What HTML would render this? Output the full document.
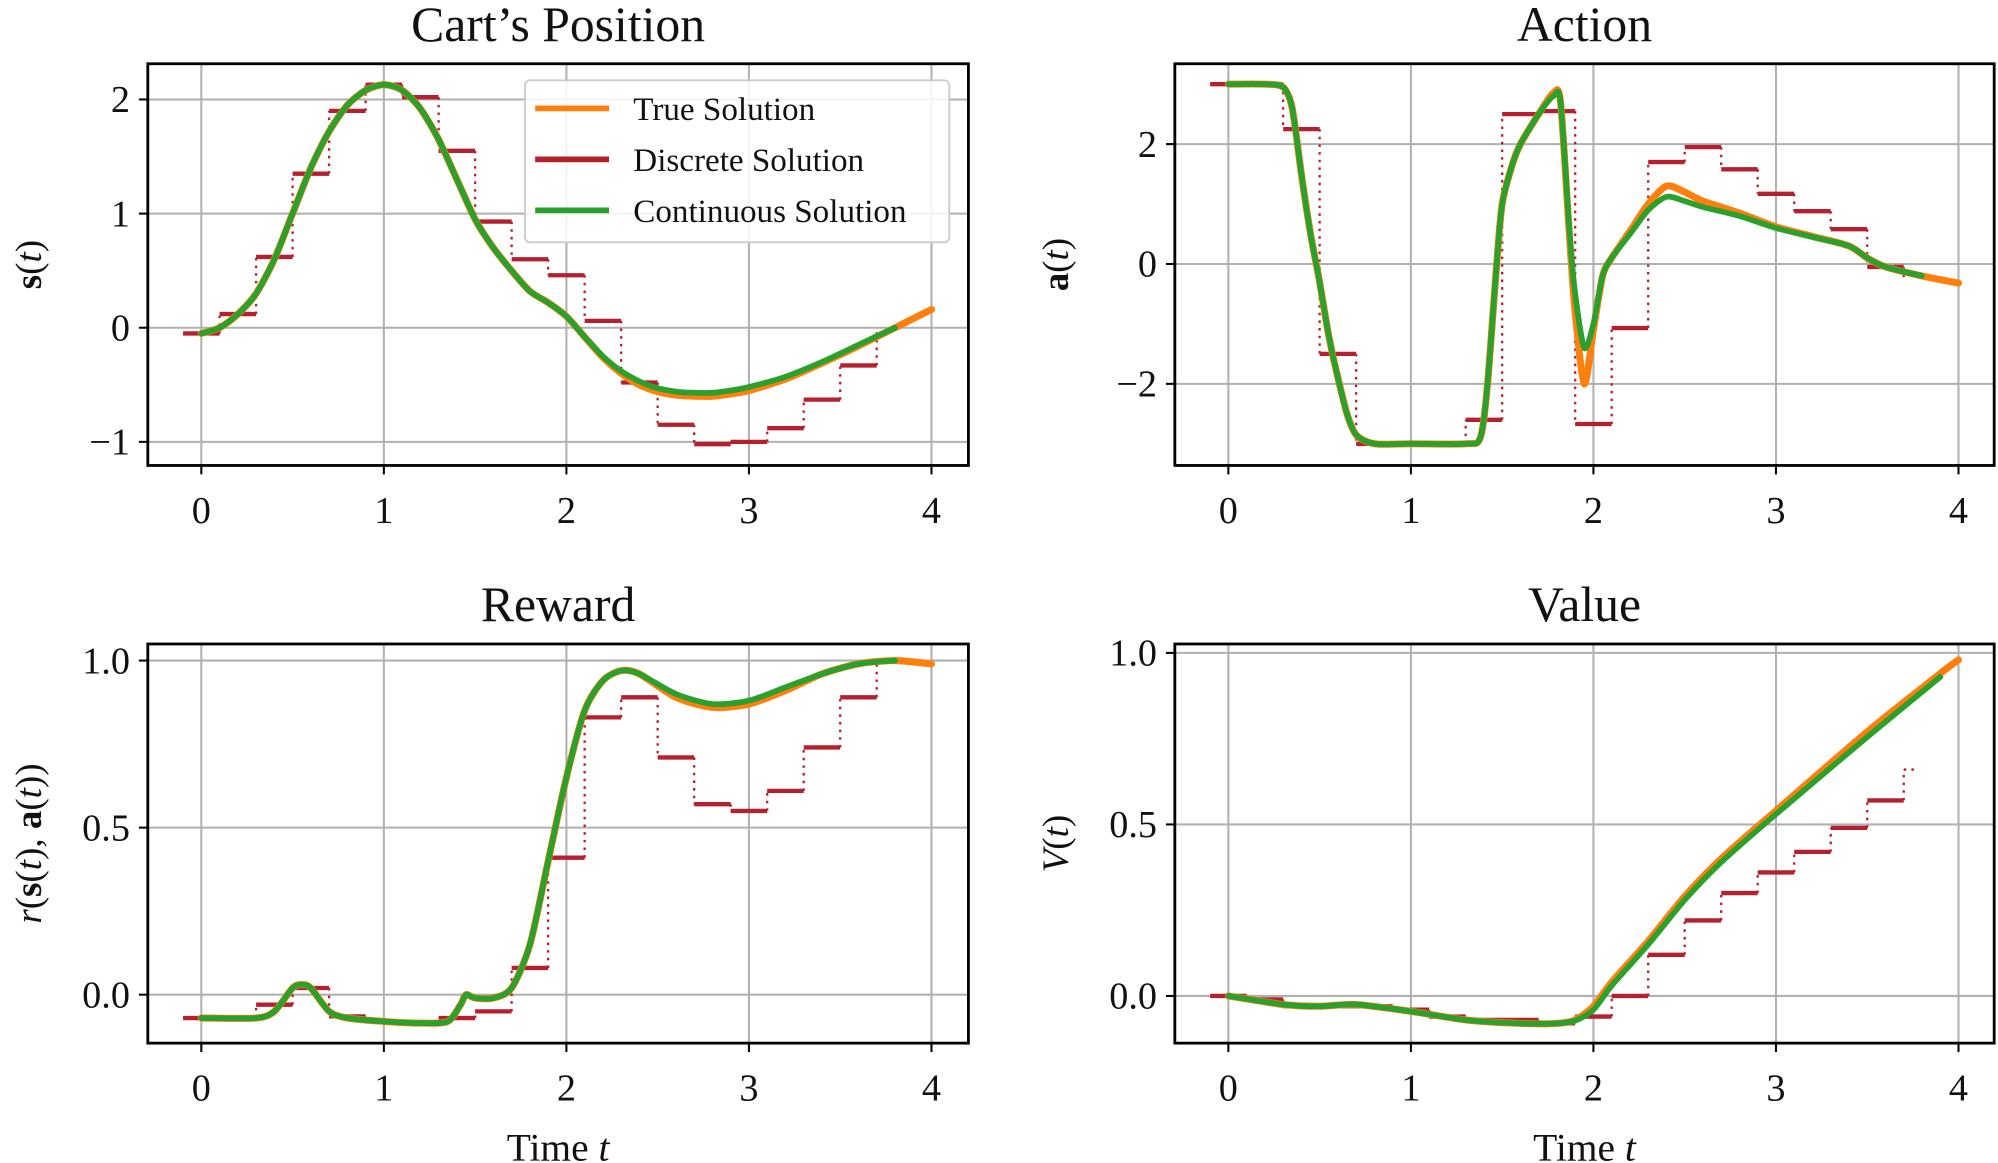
<!DOCTYPE html>
<html><head><meta charset="utf-8"><style>
html,body{margin:0;padding:0;background:#fff}
svg{display:block}
text{font-family:"Liberation Serif",serif;fill:#111}
</style></head><body>
<svg id="fig" width="1998" height="1163" viewBox="0 0 1568 912" preserveAspectRatio="none" xmlns="http://www.w3.org/2000/svg"></svg>
<script>
// ---- data ----
const stepTimes = [0,0.2,0.4,0.6,0.8,1.0,1.2,1.4,1.6,1.8,2.0,2.2,2.4,2.6,2.8,3.0,3.2,3.4,3.6];
const posDiscrete = [-0.05,0.12,0.62,1.35,1.9,2.13,2.02,1.55,0.93,0.6,0.46,0.06,-0.48,-0.85,-1.02,-1.0,-0.88,-0.63,-0.33];
const posT = [0,0.1,0.2,0.3,0.4,0.5,0.6,0.7,0.8,0.9,1.0,1.1,1.2,1.3,1.4,1.5,1.6,1.7,1.8,1.9,2.0,2.1,2.2,2.3,2.4,2.5,2.6,2.7,2.8,2.9,3.0,3.2,3.4,3.6,3.8,4.0];
const posTrue = [-0.05,0.0,0.12,0.3,0.6,1.0,1.4,1.72,1.95,2.08,2.13,2.08,1.92,1.65,1.3,0.95,0.7,0.5,0.32,0.22,0.1,-0.08,-0.26,-0.4,-0.5,-0.56,-0.59,-0.6,-0.6,-0.58,-0.55,-0.45,-0.31,-0.16,0.0,0.16];
const posCont = [-0.05,0.0,0.12,0.3,0.6,1.0,1.4,1.72,1.95,2.08,2.13,2.08,1.92,1.65,1.3,0.95,0.7,0.5,0.32,0.22,0.1,-0.08,-0.25,-0.38,-0.47,-0.53,-0.56,-0.57,-0.57,-0.55,-0.52,-0.43,-0.3,-0.15,0.0,null];

const actDiscrete = [3.0,3.0,2.25,-1.5,-3.0,-3.0,-3.0,-2.6,2.5,2.55,-2.67,-1.07,1.7,1.95,1.58,1.17,0.88,0.58,-0.05];
const actT = [0,0.2,0.3,0.35,0.4,0.45,0.5,0.55,0.6,0.65,0.7,0.8,1.0,1.3,1.38,1.42,1.47,1.5,1.55,1.6,1.7,1.78,1.82,1.87,1.9,1.95,2.0,2.05,2.1,2.2,2.3,2.4,2.5,2.6,2.8,3.0,3.2,3.4,3.5,3.6,3.8,4.0];
const actTrue = [3.0,3.0,2.95,2.6,1.5,0.5,-0.3,-1.2,-1.9,-2.5,-2.85,-3.0,-3.0,-3.0,-2.9,-2.0,0,1.0,1.6,2.0,2.5,2.85,2.7,0.4,-0.8,-2.0,-1.1,-0.2,0.1,0.55,1.0,1.3,1.2,1.05,0.85,0.62,0.46,0.3,0.1,-0.05,-0.2,-0.32];
const actCont = [3.0,3.0,2.95,2.6,1.5,0.5,-0.3,-1.2,-1.9,-2.5,-2.85,-3.0,-3.0,-3.0,-2.9,-2.0,0,1.0,1.6,2.0,2.5,2.8,2.7,0.5,-0.5,-1.4,-1.0,-0.2,0.1,0.5,0.9,1.12,1.05,0.95,0.8,0.6,0.45,0.3,0.1,-0.05,-0.2,null];

const rewDiscrete = [-0.07,-0.07,-0.03,0.02,-0.065,-0.08,-0.085,-0.07,-0.05,0.08,0.41,0.83,0.89,0.71,0.57,0.55,0.61,0.74,0.89];
const rewT = [0,0.3,0.4,0.5,0.55,0.6,0.7,0.8,1.0,1.2,1.35,1.42,1.45,1.5,1.6,1.7,1.8,1.9,2.0,2.1,2.2,2.3,2.4,2.6,2.8,3.0,3.2,3.4,3.6,3.8,4.0];
const rewTrue = [-0.07,-0.07,-0.05,0.02,0.03,0.02,-0.05,-0.07,-0.08,-0.085,-0.08,-0.03,0.0,-0.01,-0.01,0.02,0.15,0.4,0.65,0.85,0.94,0.97,0.96,0.89,0.86,0.87,0.91,0.96,0.99,1.0,0.99];
const rewCont = [-0.07,-0.07,-0.05,0.02,0.03,0.02,-0.05,-0.07,-0.08,-0.085,-0.08,-0.03,0.0,-0.01,-0.01,0.02,0.15,0.4,0.65,0.85,0.94,0.97,0.96,0.9,0.87,0.88,0.92,0.96,0.99,1.0,null];

const valDiscrete = [0.0,-0.01,-0.03,-0.03,-0.03,-0.04,-0.06,-0.07,-0.07,-0.08,-0.06,0.0,0.12,0.22,0.3,0.36,0.42,0.49,0.57];
const valT = [0,0.3,0.5,0.7,1.0,1.3,1.6,1.8,1.9,2.0,2.1,2.3,2.5,2.7,3.0,3.5,3.9,4.0];
const valTrue = [0.0,-0.025,-0.03,-0.025,-0.045,-0.07,-0.08,-0.08,-0.07,-0.03,0.04,0.16,0.29,0.4,0.54,0.77,0.94,0.98];
const valCont = [0.0,-0.025,-0.03,-0.025,-0.045,-0.07,-0.08,-0.08,-0.072,-0.04,0.03,0.15,0.28,0.39,0.53,0.755,0.93,null];

const xTicks = [0,1,2,3,4];
const posYTicks = [2,1,0,-1];
const actYTicks = [2,0,-2];
const rewYTicks = [1.0,0.5,0.0];
const valYTicks = [1.0,0.5,0.0];

// ---- drawing ----
const NS = "http://www.w3.org/2000/svg";
const svg = document.getElementById('fig');
function mk(tag, attrs, parent){const e=document.createElementNS(NS,tag);for(const k in attrs)e.setAttribute(k,attrs[k]);(parent||svg).appendChild(e);return e;}
function fmt(v,dec){const s=Math.abs(v).toFixed(dec);return (v<0?'\u2212':'')+s;}

function smoothPath(pts){
  if(pts.length<2)return '';
  let p='M'+pts[0][0].toFixed(1)+','+pts[0][1].toFixed(1);
  for(let i=0;i<pts.length-1;i++){
    const p0=pts[Math.max(0,i-1)],p1=pts[i],p2=pts[i+1],p3=pts[Math.min(pts.length-1,i+2)];
    const k=1/6*0.8;
    const c1x=p1[0]+(p2[0]-p0[0])*k,c1y=p1[1]+(p2[1]-p0[1])*k;
    const c2x=p2[0]-(p3[0]-p1[0])*k,c2y=p2[1]-(p3[1]-p1[1])*k;
    p+='C'+c1x.toFixed(1)+','+c1y.toFixed(1)+' '+c2x.toFixed(1)+','+c2y.toFixed(1)+' '+p2[0].toFixed(1)+','+p2[1].toFixed(1);
  }
  return p;
}

function panel(cfg){
  const g = mk('g',{});
  
  
  const X = t => cfg.x0px + (t - 0) * (cfg.x4px - cfg.x0px) / 4;
  const Y = v => cfg.ya.px + (v - cfg.ya.v) * (cfg.yb.px - cfg.ya.px) / (cfg.yb.v - cfg.ya.v);
  xTicks.forEach(t=>{const l=mk('line',{x1:X(t),x2:X(t),y1:cfg.top,y2:cfg.bottom,stroke:'#b0b0b0','stroke-width':1.6},g);
    });
  cfg.yTicks.forEach(v=>{const l=mk('line',{x1:cfg.left,x2:cfg.right,y1:Y(v),y2:Y(v),stroke:'#b0b0b0','stroke-width':1.6},g);
    });
  const cid='clip'+cfg.name;
  const cp=mk('clipPath',{id:cid},g);mk('rect',{x:cfg.left,y:cfg.top,width:cfg.right-cfg.left,height:cfg.bottom-cfg.top},cp);
  const data=mk('g',{'clip-path':'url(#'+cid+')'},g);
  const d=cfg.disc;
  for(let i=0;i<d.length;i++){
    const t=stepTimes[i];
    const s=mk('line',{x1:X(t-0.1),x2:X(t+0.1),y1:Y(d[i]),y2:Y(d[i]),stroke:'#b5202e','stroke-width':3.4},data);
    
    const next = i<d.length-1 ? d[i+1] : cfg.discEnd;
    if(next!==undefined){
      const c=mk('line',{x1:X(t+0.1),x2:X(t+0.1),y1:Y(d[i]),y2:Y(next),stroke:'#b5202e','stroke-width':1.8,'stroke-dasharray':'2,4'},data);
      
    }
  }
  if(cfg.discTail!==undefined){
    const s=mk('line',{x1:X(3.7),x2:X(3.76),y1:Y(cfg.discTail),y2:Y(cfg.discTail),stroke:'#b5202e','stroke-width':1.8,'stroke-dasharray':'2,4'},data);
    
  }
  function line(ts,vs,color,w,name){
    const pts=[];ts.forEach((t,i)=>{if(vs[i]===null||vs[i]===undefined)return;pts.push([X(t),Y(vs[i])]);});
    const e=mk('path',{d:smoothPath(pts),fill:'none',stroke:color,'stroke-width':w,'stroke-linejoin':'round','stroke-linecap':'round'},data);
    
  }
  line(cfg.t,cfg.tru,'#ff7f0e',5.5,'true-solution-line');
  line(cfg.t,cfg.cont,'#2ca02c',4.5,'continuous-solution-line');
  const fr=mk('rect',{x:cfg.left,y:cfg.top,width:cfg.right-cfg.left,height:cfg.bottom-cfg.top,fill:'none',stroke:'#000','stroke-width':2.2},g);
  
  xTicks.forEach(t=>{mk('line',{x1:X(t),x2:X(t),y1:cfg.bottom,y2:cfg.bottom+7,stroke:'#000','stroke-width':1.6},g);
    const tx=mk('text',{x:X(t),y:cfg.bottom+45,'text-anchor':'middle','font-size':30},g);tx.textContent=String(t);
    });
  cfg.yTicks.forEach(v=>{mk('line',{x1:cfg.left-7,x2:cfg.left,y1:Y(v),y2:Y(v),stroke:'#000','stroke-width':1.6},g);
    const tx=mk('text',{x:cfg.left-14,y:Y(v)+10,'text-anchor':'end','font-size':30},g);tx.textContent=fmt(v,cfg.dec);
    });
  const ti=mk('text',{x:(cfg.left+cfg.right)/2,y:cfg.top-18,'text-anchor':'middle','font-size':39},g);ti.textContent=cfg.title;
  
  const yl=mk('text',{x:0,y:0,'text-anchor':'middle','font-size':29,transform:`translate(${cfg.left-84},${(cfg.top+cfg.bottom)/2}) rotate(-90)`},g);
  yl.innerHTML=cfg.ylabel;
  
  if(cfg.xlabel){const xl=mk('text',{x:(cfg.left+cfg.right)/2,y:cfg.bottom+92,'text-anchor':'middle','font-size':31},g);
    xl.innerHTML='Time <tspan font-style="italic">t</tspan>';
    }
  return g;
}

panel({name:'position-panel',title:'Cart\u2019s Position',left:116,right:760,top:50,bottom:365,x0px:158,x4px:731,
  ya:{v:0,px:257},yb:{v:2,px:78},yTicks:posYTicks,dec:0,disc:posDiscrete,discEnd:0.0,t:posT,tru:posTrue,cont:posCont,
  ylabel:'<tspan font-weight="bold">s</tspan>(<tspan font-style="italic">t</tspan>)'});
panel({name:'action-panel',title:'Action',left:922,right:1565,top:50,bottom:365,x0px:964,x4px:1537,
  ya:{v:0,px:207},yb:{v:2,px:113},yTicks:actYTicks,dec:0,disc:actDiscrete,discEnd:-0.3,t:actT,tru:actTrue,cont:actCont,
  ylabel:'<tspan font-weight="bold">a</tspan>(<tspan font-style="italic">t</tspan>)'});
panel({name:'reward-panel',title:'Reward',left:116,right:760,top:505,bottom:818,x0px:158,x4px:731,
  ya:{v:0,px:780},yb:{v:1,px:518},yTicks:rewYTicks,dec:1,disc:rewDiscrete,discEnd:0.99,t:rewT,tru:rewTrue,cont:rewCont,xlabel:true,
  ylabel:'<tspan font-style="italic">r</tspan>(<tspan font-weight="bold">s</tspan>(<tspan font-style="italic">t</tspan>), <tspan font-weight="bold">a</tspan>(<tspan font-style="italic">t</tspan>))'});
panel({name:'value-panel',title:'Value',left:922,right:1565,top:505,bottom:818,x0px:964,x4px:1537,
  ya:{v:0,px:781},yb:{v:1,px:512},yTicks:valYTicks,dec:1,disc:valDiscrete,discEnd:0.66,discTail:0.66,t:valT,tru:valTrue,cont:valCont,xlabel:true,
  ylabel:'<tspan font-style="italic">V</tspan>(<tspan font-style="italic">t</tspan>)'});

const lg=mk('g',{});


mk('rect',{x:412,y:63,width:333,height:127,rx:4,fill:'#fff','fill-opacity':0.85,stroke:'#ccc','stroke-width':1.5},lg);
const entries=[['True Solution','#ff7f0e'],['Discrete Solution','#b5202e'],['Continuous Solution','#2ca02c']];
entries.forEach((e,i)=>{
  const y=85+i*40;
  const eg=mk('g',{},lg);
  
  
  mk('line',{x1:420,x2:478,y1:y,y2:y,stroke:e[1],'stroke-width':4.5},eg);
  const t=mk('text',{x:497,y:y+9,'font-size':26},eg);t.textContent=e[0];
});
</script>
</body></html>
